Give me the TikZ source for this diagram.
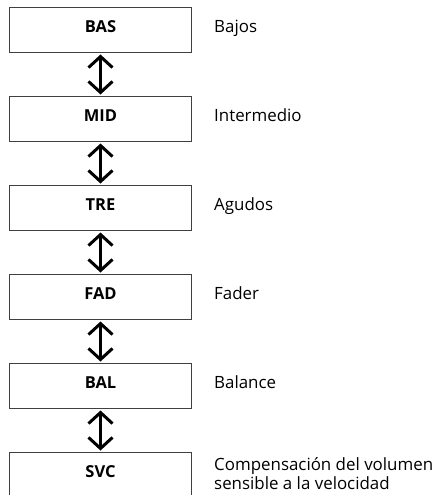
\documentclass[tikz,border=0pt]{standalone}
\usepackage{fontspec}
\setmainfont{Open Sans}
\usetikzlibrary{arrows.meta}
\begin{document}
\begin{tikzpicture}[x=1pt,y=-1pt,
  box/.style={draw=black!75, line width=1pt, minimum width=182pt, minimum height=45pt,
    inner sep=0pt, anchor=north west, text height=12pt, text depth=7pt,
    font=\fontsize{16.5}{18}\selectfont\bfseries},
  lbl/.style={anchor=base west, inner sep=0pt, align=left,
    font=\fontsize{16.9}{19.5}\selectfont},
  dbl/.style={line width=3pt, {Straight Barb[length=11pt,width=24pt]}-{Straight Barb[length=11pt,width=24pt]}, shorten <=1.5pt, shorten >=1.5pt}]
\useasboundingbox (0,0) rectangle (434,495);
\node[box] (bas) at (9,7) {BAS};
\node[box] (mid) at (9,96) {MID};
\node[box] (tre) at (9,185) {TRE};
\node[box] (fad) at (9,274) {FAD};
\node[box] (bal) at (9,363) {BAL};
\node[box] (svc) at (9,452) {SVC};
\node[lbl] (lbas) at (214,32.5) {Bajos};
\node[lbl] (lmid) at (214,121.5) {Intermedio};
\node[lbl] (ltre) at (214,210.5) {Agudos};
\node[lbl] (lfad) at (214,299.5) {Fader};
\node[lbl] (lbal) at (214,388.5) {Balance};
\node[lbl] (lsvc) at (214,489.5) {Compensación del volumen\\sensible a la velocidad};
\draw[dbl] (bas.south) -- (mid.north);
\draw[dbl] (mid.south) -- (tre.north);
\draw[dbl] (tre.south) -- (fad.north);
\draw[dbl] (fad.south) -- (bal.north);
\draw[dbl] (bal.south) -- (svc.north);
\end{tikzpicture}
\end{document}
